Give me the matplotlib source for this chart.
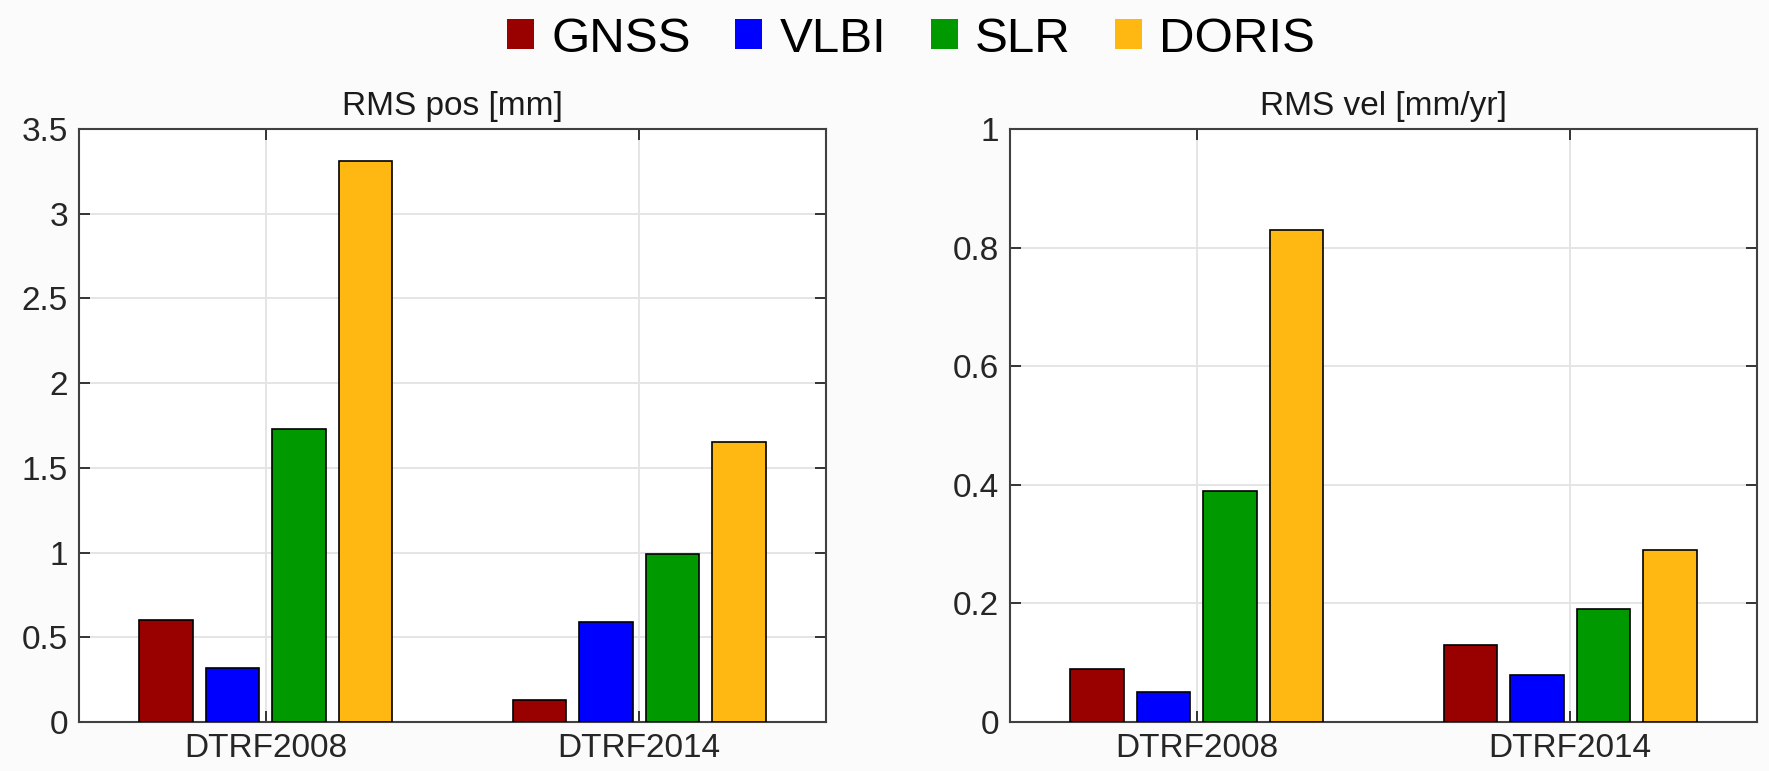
import matplotlib
matplotlib.use("Agg")
from matplotlib import pyplot as plt
from matplotlib.patches import Patch
from matplotlib.ticker import FuncFormatter
import numpy as np

plt.rcParams['font.family'] = ['Liberation Sans', 'DejaVu Sans']

# Data
frames = ["DTRF2008", "DTRF2014"]
techniques = ["GNSS", "VLBI", "SLR", "DORIS"]
colors = ["#990000", "#0000ff", "#009900", "#ffb812"]

rms_pos = {
    "GNSS": [0.60, 0.13],
    "VLBI": [0.32, 0.59],
    "SLR": [1.73, 0.99],
    "DORIS": [3.31, 1.65],
}
rms_vel = {
    "GNSS": [0.09, 0.13],
    "VLBI": [0.05, 0.08],
    "SLR": [0.39, 0.19],
    "DORIS": [0.83, 0.29],
}

pos_ticks = [0, 0.5, 1, 1.5, 2, 2.5, 3, 3.5]
vel_ticks = [0, 0.2, 0.4, 0.6, 0.8, 1]

fig = plt.figure(figsize=(17.69, 7.71), dpi=100, facecolor="#fbfbfb")

W, H = 1769.0, 771.0
ax1 = fig.add_axes([79 / W, 1 - 722 / H, (826 - 79) / W, (722 - 129) / H])
ax2 = fig.add_axes([1010 / W, 1 - 722 / H, (1757 - 1010) / W, (722 - 129) / H])


# Draws one grouped bar panel.
def panel(ax, data, ticks, title):
    x = np.arange(1, len(frames) + 1)
    pitch = 0.178
    width = 0.143
    for i, name in enumerate(techniques):
        off = (i - 1.5) * pitch
        ax.bar(x + off, data[name], width, color=colors[i],
               edgecolor="black", linewidth=1.2, zorder=3)

    ax.set_xlim(0.5, 2.5)
    ax.set_ylim(ticks[0], ticks[-1])
    ax.set_xticks(x)
    ax.set_xticklabels(frames)
    ax.set_yticks(ticks)
    ax.yaxis.set_major_formatter(FuncFormatter(lambda v, p: "%g" % v))

    # MATLAB-like box with inward ticks on every side
    ax.tick_params(direction="in", length=8, width=1.3, top=True, right=True,
                   labelsize=24, colors="#262626", pad=8)
    for s in ax.spines.values():
        s.set_color("#404040")
        s.set_linewidth(1.5)

    ax.grid(True, color="#e3e3e3", linewidth=1.3, zorder=0)
    ax.set_axisbelow(True)
    ax.set_title(title, fontsize=24, pad=10, color="#1a1a1a")


panel(ax1, rms_pos, pos_ticks, "RMS pos [mm]")
panel(ax2, rms_vel, vel_ticks, "RMS vel [mm/yr]")

handles = [Patch(facecolor=c, edgecolor="none") for c in colors]
fig.legend(handles, techniques, loc="upper center", bbox_to_anchor=(0.515, 1.036),
           ncol=4, frameon=False, fontsize=35.5, handlelength=0.55,
           handleheight=0.55, handletextpad=0.35, columnspacing=0.9)

fig.savefig("out.png", dpi=100, facecolor=fig.get_facecolor())
